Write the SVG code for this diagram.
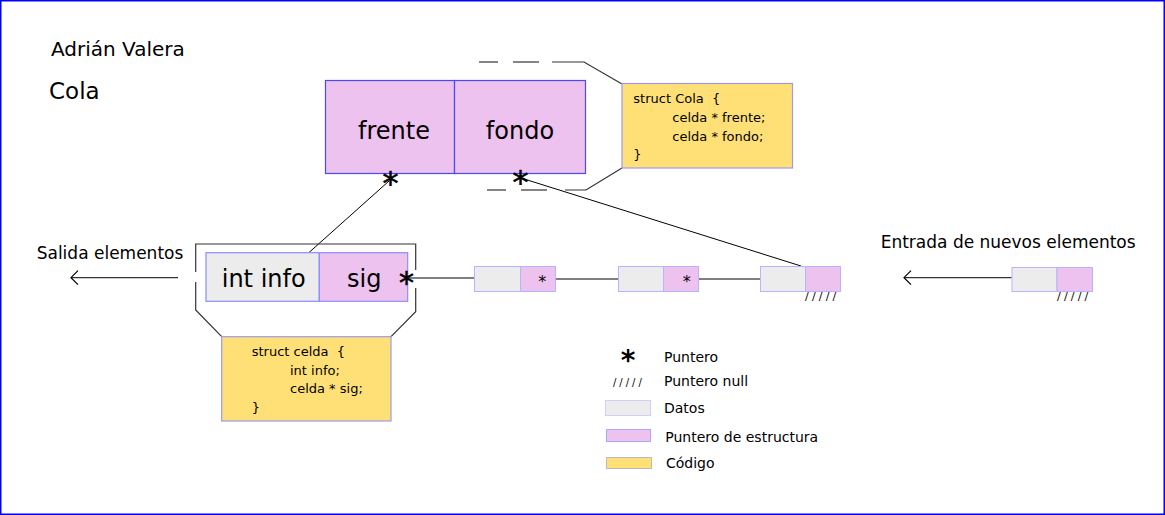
<svg xmlns="http://www.w3.org/2000/svg" width="1165" height="515" viewBox="0 0 1165 515">
<defs>
<marker id="openArrow" viewBox="0 0 10 16" refX="8" refY="8" markerWidth="10" markerHeight="16" markerUnits="userSpaceOnUse" orient="auto">
<path d="M1,1 L8,8 L1,15" fill="none" stroke="#000" stroke-width="1.2"/>
</marker>
</defs>
<style>
text{font-family:"DejaVu Sans","Liberation Sans",sans-serif;fill:#000}
.big{font-size:24px}
.lbl{font-size:17px}
.code{font-size:13px;white-space:pre}
.leg{font-size:14px}
.pink{fill:#eec2ee}
.gray{fill:#ececec}
.yellow{fill:#ffe077}
.ptr{font-size:32px;stroke:#000;stroke-width:0.6}
.null{font-size:11px;letter-spacing:3.2px}
.conn{fill:none;stroke:#000;stroke-width:1}
.chain{fill:none;stroke:#555;stroke-width:1.4}
.brk{fill:none;stroke:#333;stroke-width:1.2}
</style>
<rect x="0.75" y="0.75" width="1163.5" height="513.5" fill="#fff" stroke="#0000ff" stroke-width="1.5"/>
<text x="51" y="56" style="font-size:20px">Adrián Valera</text>
<text x="49" y="99" style="font-size:23px">Cola</text>

<g id="connectors">
<line class="conn" x1="389" y1="181" x2="309" y2="252.5"/>
<line class="conn" x1="521" y1="178" x2="801" y2="266"/>
<line class="conn" x1="406" y1="278" x2="474" y2="278"/>
<line class="chain" x1="542" y1="279" x2="618.5" y2="279"/>
<line class="chain" x1="687" y1="279" x2="760" y2="279"/>
<line class="conn" x1="178" y1="277.7" x2="71" y2="277.7" marker-end="url(#openArrow)"/>
<line class="conn" x1="1011.7" y1="277.7" x2="904" y2="277.7" marker-end="url(#openArrow)"/>
</g>

<g id="cola">
<rect x="325.5" y="80.5" width="129" height="93" class="pink" stroke="#4848ff" stroke-width="1.2"/>
<rect x="454.5" y="80.5" width="131" height="93" class="pink" stroke="#4848ff" stroke-width="1.2"/>
<text x="394" y="139" class="big" text-anchor="middle">frente</text>
<text x="520" y="139" class="big" text-anchor="middle">fondo</text>
<text x="390.5" y="194" class="ptr" text-anchor="middle">*</text>
<text x="520.5" y="193" class="ptr" text-anchor="middle">*</text>
</g>

<g id="cola-bracket">
<line class="brk" x1="479" y1="62" x2="498" y2="62"/>
<line class="brk" x1="513" y1="62" x2="539" y2="62"/>
<polyline class="brk" points="552,62 584,62 622,84"/>
<line class="brk" x1="487" y1="190" x2="506" y2="190"/>
<line class="brk" x1="521" y1="190" x2="547" y2="190"/>
<polyline class="brk" points="565,190 586,190 622,168"/>
</g>

<g id="cola-code">
<rect x="622" y="83.5" width="170.5" height="84.5" class="yellow" stroke="#9a9af0" stroke-width="1.2"/>
<text x="633.3" y="103" class="code">struct Cola  {</text>
<text x="672.3" y="122" class="code">celda * frente;</text>
<text x="672.3" y="141" class="code">celda * fondo;</text>
<text x="633.3" y="159" class="code">}</text>
</g>

<g id="celda-bracket">
<polyline class="brk" points="195.7,272 195.7,244 415.7,244 415.7,270"/>
<polyline class="brk" points="195.7,282 195.7,310 221.7,336.7"/>
<polyline class="brk" points="415.7,288 415.7,311.7 391,336.7"/>
</g>

<g id="celda">
<rect x="206" y="252.7" width="113.3" height="48.6" class="gray" stroke="#8c8cff" stroke-width="1.2"/>
<rect x="319.3" y="252.7" width="88.4" height="48.6" class="pink" stroke="#8c8cff" stroke-width="1.2"/>
<text x="263.7" y="287" class="big" text-anchor="middle">int info</text>
<text x="364.3" y="287" class="big" text-anchor="middle">sig</text>
<text x="406.5" y="292.5" style="font-size:30px;stroke:#000;stroke-width:0.6" text-anchor="middle">*</text>
</g>

<g id="celda-code">
<rect x="221.7" y="336.7" width="169.3" height="84.3" class="yellow" stroke="#9a9af0" stroke-width="1.2"/>
<text x="251.7" y="356" class="code">struct celda  {</text>
<text x="290" y="374.5" class="code">int info;</text>
<text x="290" y="393" class="code">celda * sig;</text>
<text x="251.7" y="411.5" class="code">}</text>
</g>

<text x="36.7" y="259" class="lbl">Salida elementos</text>
<text x="880.7" y="248" class="lbl">Entrada de nuevos elementos</text>

<g id="node1">
<rect x="474.5" y="266.5" width="46" height="25" class="gray" stroke="#b4b4ff" stroke-width="1"/>
<rect x="520.5" y="266.5" width="35" height="25" class="pink" stroke="#b4b4ff" stroke-width="1"/>
<text x="542.3" y="287" style="font-size:16px" text-anchor="middle">*</text>
</g>
<g id="node2">
<rect x="618.5" y="266.5" width="45" height="25" class="gray" stroke="#b4b4ff" stroke-width="1"/>
<rect x="663.5" y="266.5" width="35" height="25" class="pink" stroke="#b4b4ff" stroke-width="1"/>
<text x="686.7" y="287" style="font-size:16px" text-anchor="middle">*</text>
</g>
<g id="node3">
<rect x="760.5" y="266.5" width="45" height="25" class="gray" stroke="#b4b4ff" stroke-width="1"/>
<rect x="805.5" y="266.5" width="35" height="25" class="pink" stroke="#b4b4ff" stroke-width="1"/>
<text x="805" y="300" class="null">/////</text>
</g>
<g id="node4">
<rect x="1012" y="267.5" width="45" height="24" class="gray" stroke="#b4b4ff" stroke-width="1"/>
<rect x="1057" y="267.5" width="35.5" height="24" class="pink" stroke="#b4b4ff" stroke-width="1"/>
<text x="1057" y="300" class="null">/////</text>
</g>

<g id="legend">
<text x="628" y="369.5" style="font-size:28px;font-weight:bold" text-anchor="middle">*</text>
<text x="664" y="361.7" class="leg">Puntero</text>
<text x="613" y="386" style="font-size:10px;letter-spacing:3px">/////</text>
<text x="664" y="386" class="leg">Puntero null</text>
<rect x="605.5" y="400.5" width="45" height="15" class="gray" stroke="#d0d0f4" stroke-width="1"/>
<text x="664" y="412.7" class="leg">Datos</text>
<rect x="606.5" y="429.5" width="44" height="12" class="pink" stroke="#a8a8ff" stroke-width="1"/>
<text x="665.3" y="441.7" class="leg">Puntero de estructura</text>
<rect x="606.5" y="457.5" width="45" height="11" class="yellow" stroke="#bbbbbb" stroke-width="1"/>
<text x="666" y="468.3" class="leg">Código</text>
</g>
</svg>
